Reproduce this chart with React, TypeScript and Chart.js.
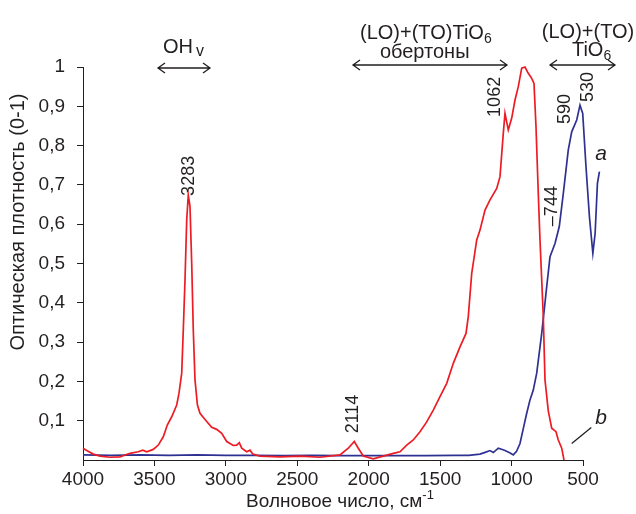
import React, { useEffect, useRef } from "react";
import { Chart, registerables } from "chart.js";

Chart.register(...registerables);

// ---------- data ----------
const xTicks = [4000, 3500, 3000, 2500, 2000, 1500, 1000, 500];
const yTicks = [0.1, 0.2, 0.3, 0.4, 0.5, 0.6, 0.7, 0.8, 0.9, 1];

// curve b (red)
const redX = [
  4000, 3974, 3928, 3881, 3811, 3741, 3671, 3613, 3582, 3554, 3508, 3473, 3438, 3410, 3379, 3344,
  3328, 3309, 3298, 3286, 3274, 3263, 3251, 3239, 3228, 3216, 3199, 3181, 3134, 3099, 3064, 3029,
  2994, 2948, 2924, 2906, 2889, 2854, 2831, 2812, 2761, 2621, 2481, 2341, 2201, 2143, 2101, 2073,
  2038, 1968, 1898, 1828, 1781, 1734, 1688, 1641, 1594, 1548, 1501, 1454, 1408, 1361, 1319, 1303,
  1279, 1244, 1221, 1186, 1151, 1104, 1081, 1058, 1046, 1023, 999, 976, 953, 929, 906, 883, 859,
  843, 829, 813, 801, 778, 766, 743, 719, 689, 673, 649, 633,
];
const redY = [
  0.030, 0.024, 0.015, 0.010, 0.007, 0.008, 0.017, 0.021, 0.025, 0.021, 0.027, 0.038, 0.059, 0.089, 0.110, 0.140,
  0.170, 0.221, 0.331, 0.458, 0.611, 0.674, 0.645, 0.500, 0.331, 0.204, 0.140, 0.119, 0.098, 0.083, 0.078, 0.068,
  0.047, 0.037, 0.038, 0.044, 0.030, 0.021, 0.025, 0.015, 0.010, 0.008, 0.010, 0.007, 0.013, 0.030, 0.047, 0.030,
  0.010, 0.003, 0.010, 0.017, 0.021, 0.038, 0.051, 0.072, 0.097, 0.127, 0.161, 0.195, 0.246, 0.288, 0.322, 0.365,
  0.475, 0.560, 0.585, 0.636, 0.662, 0.691, 0.721, 0.831, 0.882, 0.840, 0.870, 0.916, 0.950, 0.997, 1.000, 0.984, 0.971,
  0.958, 0.848, 0.678, 0.560, 0.365, 0.204, 0.125, 0.081, 0.072, 0.051, 0.030, 0.000,
];

// curve a (blue)
const blueX = [
  4000, 3800, 3600, 3400, 3200, 3000, 2800, 2600, 2400, 2200, 2000, 1800, 1600, 1400, 1300, 1221,
  1180, 1151, 1128, 1093, 1060, 1046, 1010, 988, 965, 941, 918, 894, 871, 848, 824, 789, 754, 731,
  696, 666, 638, 603, 579, 544, 521, 502, 479, 455, 431, 415, 399, 385,
];
const blueY = [
  0.013, 0.012, 0.013, 0.012, 0.013, 0.012, 0.012, 0.011, 0.012, 0.011, 0.011, 0.011, 0.011, 0.012, 0.012, 0.015,
  0.020, 0.024, 0.019, 0.030, 0.026, 0.024, 0.018, 0.013, 0.022, 0.042, 0.080, 0.119, 0.153, 0.178, 0.221, 0.322, 0.441, 0.517,
  0.551, 0.594, 0.678, 0.789, 0.835, 0.865, 0.903, 0.882, 0.746, 0.619, 0.526, 0.577, 0.704, 0.734,
];

// peak labels (rotated), in data coordinates
const peakText = ["3283", "2114", "1062", "590", "530", "\u2013744"];
const peakX = [3265, 2117, 1123, 633, 472, 724];
const peakY = [0.723, 0.117, 0.924, 0.893, 0.949, 0.646];

// ---------- styles ----------
const FONT = '"Liberation Sans", Arial, sans-serif';
const INK = "#231f20";
const RED = "#ed1c24";
const BLUE = "#2e3192";

function drawArrow(ctx: CanvasRenderingContext2D, x1: number, x2: number, y: number) {
  ctx.save();
  ctx.strokeStyle = INK;
  ctx.lineWidth = 1.3;
  ctx.beginPath();
  ctx.moveTo(x1, y);
  ctx.lineTo(x2, y);
  ctx.moveTo(x1 + 7, y - 5);
  ctx.lineTo(x1, y);
  ctx.lineTo(x1 + 7, y + 5);
  ctx.moveTo(x2 - 7, y - 5);
  ctx.lineTo(x2, y);
  ctx.lineTo(x2 - 7, y + 5);
  ctx.stroke();
  ctx.restore();
}

// text with a subscript or superscript part, centred on cx
function drawParts(
  ctx: CanvasRenderingContext2D,
  parts: { t: string; size: number; dy: number }[],
  cx: number,
  baseY: number
) {
  let total = 0;
  const widths = parts.map((p) => {
    ctx.font = `${p.size}px ${FONT}`;
    const w = ctx.measureText(p.t).width;
    total += w;
    return w;
  });
  let x = cx - total / 2;
  ctx.textAlign = "left";
  ctx.textBaseline = "alphabetic";
  parts.forEach((p, i) => {
    ctx.font = `${p.size}px ${FONT}`;
    ctx.fillText(p.t, x, baseY + p.dy);
    x += widths[i];
  });
}

const annotPlugin = {
  id: "annot",
  afterDraw(chart: any) {
    const ctx: CanvasRenderingContext2D = chart.ctx;
    const xs = chart.scales.x;
    const ys = chart.scales.y;
    const px = (v: number) => xs.getPixelForValue(v);
    const py = (v: number) => ys.getPixelForValue(v);
    ctx.save();
    ctx.fillStyle = INK;

    // x axis line (only over the tick range)
    ctx.strokeStyle = INK;
    ctx.lineWidth = 1;
    ctx.beginPath();
    ctx.moveTo(px(xTicks[0]), py(0) + 0.5);
    ctx.lineTo(px(xTicks[xTicks.length - 1]) + 0.5, py(0) + 0.5);
    ctx.stroke();

    // axis titles
    drawParts(
      ctx,
      [
        { t: "Волновое число, см", size: 19, dy: 0 },
        { t: "-1", size: 13, dy: -8 },
      ],
      340,
      507
    );
    ctx.save();
    ctx.translate(24, 222);
    ctx.rotate(-Math.PI / 2);
    ctx.font = `20px ${FONT}`;
    ctx.textAlign = "center";
    ctx.textBaseline = "alphabetic";
    ctx.fillText("Оптическая плотность (0-1)", 0, 0);
    ctx.restore();

    // band annotations at the top
    ctx.textAlign = "left";
    ctx.font = `20px ${FONT}`;
    const ohW = ctx.measureText("OH").width;
    const ohX = px(3293) - (ohW + 12) / 2;
    ctx.fillText("OH", ohX, 53);
    ctx.font = `16px ${FONT}`;
    ctx.fillText("v", ohX + ohW + 3, 56);
    drawArrow(ctx, px(3475), px(3111), 68);

    drawParts(
      ctx,
      [
        { t: "(LO)+(TO)TiO", size: 20, dy: 0 },
        { t: "6", size: 14, dy: 4 },
      ],
      px(1600),
      39
    );
    drawParts(ctx, [{ t: "обертоны", size: 20, dy: 0 }], px(1608), 58);
    drawArrow(ctx, px(2110), px(1032), 65);

    drawParts(ctx, [{ t: "(LO)+(TO)", size: 20, dy: 0 }], px(465), 38);
    drawParts(
      ctx,
      [
        { t: "TiO", size: 20, dy: 0 },
        { t: "6", size: 14, dy: 4 },
      ],
      px(440),
      56
    );
    drawArrow(ctx, px(731), px(276), 65);

    // peak labels (rotated)
    ctx.font = `18px ${FONT}`;
    ctx.textAlign = "center";
    ctx.textBaseline = "middle";
    peakText.forEach((t, i) => {
      ctx.save();
      ctx.translate(px(peakX[i]), py(peakY[i]));
      ctx.rotate(-Math.PI / 2);
      ctx.fillText(t, 0, 1);
      ctx.restore();
    });

    // curve letters
    ctx.font = `italic 21px ${FONT}`;
    ctx.textAlign = "center";
    ctx.textBaseline = "middle";
    ctx.fillText("a", px(374), py(0.779));
    ctx.fillText("b", px(374), py(0.107));
    ctx.beginPath();
    ctx.lineWidth = 1.3;
    ctx.moveTo(px(579), py(0.042));
    ctx.lineTo(px(442), py(0.083));
    ctx.stroke();

    ctx.restore();
  },
};

export default function App() {
  const ref = useRef<HTMLCanvasElement | null>(null);

  useEffect(() => {
    if (!ref.current) return;
    const chart = new Chart(ref.current, {
      type: "line",
      data: {
        datasets: [
          {
            label: "b",
            data: redX.map((x, i) => ({ x, y: redY[i] })),
            borderColor: RED,
            borderWidth: 1.7,
            pointRadius: 0,
            fill: false,
            clip: 6,
          },
          {
            label: "a",
            data: blueX.map((x, i) => ({ x, y: blueY[i] })),
            borderColor: BLUE,
            borderWidth: 1.7,
            pointRadius: 0,
            fill: false,
            clip: 6,
          },
        ],
      },
      options: {
        animation: false,
        responsive: false,
        devicePixelRatio: 1,
        layout: { padding: { top: 67, right: 31, left: 0, bottom: 0 } },
        plugins: { legend: { display: false }, tooltip: { enabled: false }, title: { display: false } },
        scales: {
          x: {
            type: "linear",
            reverse: true,
            min: 346,
            max: 4000,
            afterFit: (s: any) => {
              s.height = 54;
            },
            afterBuildTicks: (s: any) => {
              s.ticks = xTicks.map((v) => ({ value: v }));
            },
            border: { display: false },
            grid: { drawOnChartArea: false, drawTicks: true, tickLength: 6, color: INK, lineWidth: 1 },
            ticks: {
              color: INK,
              font: { family: FONT, size: 19 },
              padding: 2,
              maxRotation: 0,
              autoSkip: false,
              callback: (v: any) => String(v),
            },
          },
          y: {
            type: "linear",
            min: 0,
            max: 1,
            afterFit: (s: any) => {
              s.width = 83;
            },
            afterBuildTicks: (s: any) => {
              s.ticks = yTicks.map((v) => ({ value: v }));
            },
            border: { display: true, color: INK, width: 1 },
            grid: { drawOnChartArea: false, drawTicks: true, tickLength: 6, color: INK, lineWidth: 1 },
            ticks: {
              color: INK,
              font: { family: FONT, size: 19 },
              padding: 12,
              autoSkip: false,
              callback: (v: any) => (v === 1 ? "1" : Number(v).toFixed(1).replace(".", ",")),
            },
          },
        },
      },
      plugins: [annotPlugin],
    });
    return () => chart.destroy();
  }, []);

  return (
    <div style={{ position: "fixed", left: 0, top: 0, width: 636, height: 514, background: "#fff" }}>
      <canvas ref={ref} width={636} height={514} style={{ width: 636, height: 514, display: "block" }} />
    </div>
  );
}
